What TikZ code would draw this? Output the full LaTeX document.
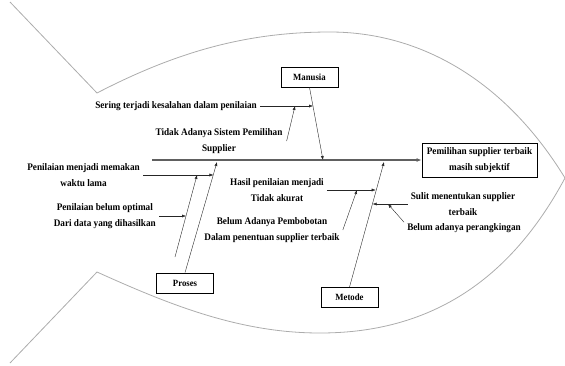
\documentclass[tikz,border=0pt]{standalone}
\usepackage{fontspec}
\setmainfont{Liberation Serif}[FakeStretch=0.92]
\usetikzlibrary{arrows.meta, positioning, calc}

\begin{document}
\begin{tikzpicture}[x=1pt, y=-1pt,
      category/.style={draw, thick, minimum width=57pt, minimum height=20pt, inner sep=2pt,
        font=\fontsize{9.5}{11}\selectfont\bfseries},
      cause/.style={align=center, inner sep=1pt, font=\fontsize{10}{15.5}\selectfont\bfseries},
      bone/.style={-{Latex[length=4pt, width=3pt]}, thin, black!85},
      spine/.style={-{Latex[length=5pt, width=4pt]}, line width=1.4pt, gray!75!black},
      outline/.style={gray!65, line width=0.8pt}
  ]

  \useasboundingbox (0,0) rectangle (565,365);

  % fish body and tail
  \draw[outline] (10,2) -- (97,93)
    .. controls (180,50) and (250,32) .. (330,32)
    .. controls (420,32) and (505,80) .. (565,178)
    .. controls (505,290) and (420,333) .. (320,333)
    .. controls (240,333) and (170,305) .. (97,272) -- (10,363);

  % head and categories
  \node[draw, thick, align=center, minimum width=115pt, minimum height=34pt,
    font=\fontsize{10}{15.5}\selectfont\bfseries] (effect) at (479.5,160)
    {Pemilihan supplier terbaik\\masih subjektif};
  \node[category] (manusia) at (309.5,77) {Manusia};
  \node[category] (proses) at (185,283) {Proses};
  \node[category] (metode) at (349.5,297.5) {Metode};

  \coordinate (tail) at (152,160);
  \coordinate (manHead) at (323,160);
  \coordinate (proHead) at (217,162);
  \coordinate (metHead) at (384,162);

  \draw[spine] (tail) -- (effect.west);
  \draw[bone] (manusia.south) -- (manHead);
  \draw[bone] (proses.north) -- (proHead);
  \draw[bone] (metode.north) -- (metHead);

  % manusia
  \coordinate (manJ) at ($(manusia.south)!0.26!(manHead)$);
  \node[cause, anchor=east] (sering) at (258,106) {Sering terjadi kesalahan dalam penilaian};
  \draw[bone] ([xshift=2pt]sering.east) -- (sering.east -| manJ);
  \node[cause] (tidak) at (219,141) {Tidak Adanya Sistem Pemilihan\\Supplier};
  \coordinate (tidakJ) at (295,106);
  \draw[bone] ([xshift=3pt]tidak.east) -- (tidakJ);

  % proses
  \coordinate (proJ) at ($(proses.north)!0.89!(proHead)$);
  \node[cause, anchor=east] (lama) at (141,175) {Penilaian menjadi memakan\\waktu lama};
  \draw[bone] ([xshift=2pt]lama.east) -- (lama.east -| proJ);
  \coordinate (subTail) at (175,257);
  \coordinate (subHead) at (197,175);
  \draw[bone] (subTail) -- (subHead);
  \coordinate (subJ) at ($(subTail)!0.5!(subHead)$);
  \node[cause, anchor=east] (optimal) at (157,216) {Penilaian belum optimal\\Dari data yang dihasilkan};
  \draw[bone] ([xshift=2pt]optimal.east) -- (optimal.east -| subJ);

  % metode
  \coordinate (hasilJ) at ($(metode.north)!0.76!(metHead)$);
  \node[cause] (hasil) at (277,190) {Hasil penilaian menjadi\\Tidak akurat};
  \draw[bone] ([xshift=2pt]hasil.east) -- (hasil.east -| hasilJ);
  \node[cause] (bobot) at (272,230) {Belum Adanya Pembobotan\\Dalam penentuan supplier terbaik};
  \coordinate (bobotJ) at (357,190);
  \draw[bone] ([xshift=2pt]bobot.east) -- (bobotJ);
  \coordinate (sulitJ) at ($(metode.north)!0.67!(metHead)$);
  \node[cause] (sulit) at (463,204) {Sulit menentukan supplier\\terbaik};
  \draw[bone] ([xshift=-2pt]sulit.west) -- (sulit.west -| sulitJ);
  \node[cause] (rangking) at (464,228) {Belum adanya perangkingan};
  \coordinate (rangkingJ) at (388,204);
  \draw[bone] ([xshift=-2pt]rangking.north west) -- (rangkingJ);
\end{tikzpicture}
\end{document}
